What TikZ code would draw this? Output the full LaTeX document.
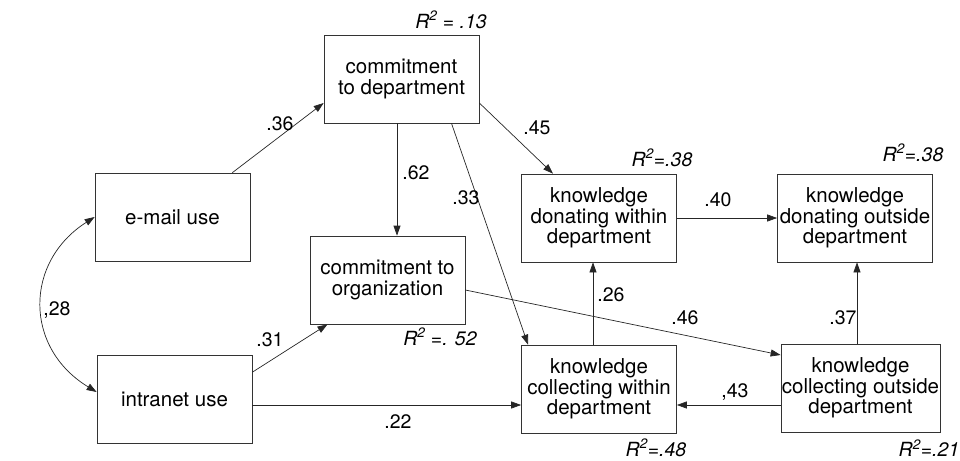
\documentclass[tikz,border=0pt]{standalone}
\usepackage{fontspec}
\setmainfont{TeX Gyre Heros}
\usetikzlibrary{arrows.meta}

\begin{document}
\begin{tikzpicture}[x=1pt,y=-1pt,
  box/.style={draw=black!80,line width=0.7pt,minimum width=155pt,minimum height=88pt,
    align=center,inner sep=0pt,font=\fontsize{20.5}{20.5}\selectfont},
  coef/.style={inner sep=1pt,font=\fontsize{19.5}{20}\selectfont},
  rsq/.style={inner sep=1pt,font=\fontsize{19.5}{20}\selectfont\itshape},
  link/.style={draw=black!85,line width=0.7pt,-{Triangle[length=10pt,width=7pt]}}]
   \useasboundingbox (0,0) rectangle (960,460);
   \node[box] (dept)  at (401.5,79)  {commitment\\to department};
   \node[box] (email) at (172.5,217) {e-mail use};
   \node[box] (org)   at (387.5,280) {commitment to\\organization};
   \node[box] (intra) at (174.5,399) {intranet use};
   \node[box] (donw)  at (599,218)   {knowledge\\donating within\\department};
   \node[box] (dono)  at (855,218)   {knowledge\\donating outside\\department};
   \node[box] (colw)  at (599,389)   {knowledge\\collecting within\\department};
   \node[box,minimum width=159pt] (colo) at (860.5,388) {knowledge\\collecting outside\\department};
   \coordinate (hl) at (0,405);
   \coordinate (vd) at (397,0);
   \draw[link] ([xshift=-18pt]email.north east) -- ([yshift=-24pt]dept.west);
   \draw[link] (dept.south -| vd) -- (org.north -| vd);
   \draw[link] ([yshift=-24pt]dept.east) -- ([xshift=-46pt]donw.north);
   \draw[link] ([xshift=50pt]dept.south) -- ([xshift=-71pt]colw.north);
   \draw[link] (intra.19) -- ([xshift=-60pt]org.south);
   \draw[link] (intra.east |- hl) -- (colw.west |- hl);
   \draw[link] ([yshift=-10pt]org.east) -- ([yshift=33pt]colo.west);
   \draw[link] (colo.west |- hl) -- (colw.east |- hl);
   \draw[link] ([xshift=-6pt]colw.north) -- ([xshift=-6pt]donw.south);
   \draw[link] (donw.east) -- (dono.west);
   \draw[link] ([xshift=-3.5pt]colo.north) -- ([xshift=-3.5pt]colo.north |- dono.south);
   \draw[link,{Triangle[length=10pt,width=7pt]}-{Triangle[length=10pt,width=7pt]}]
      (email.west) .. controls (24,262) and (24,348) .. ([yshift=7pt]intra.west);
   \node[coef] (c36) at (280,124) {.36};
   \node[coef] (c62) at (416,173) {.62};
   \node[coef] (c45) at (537,128) {.45};
   \node[coef] (c33) at (466,198) {.33};
   \node[coef] (c40) at (718,200) {.40};
   \node[coef] (c26) at (611,295) {.26};
   \node[coef] (c37) at (843,318) {.37};
   \node[coef] (c46) at (685,318) {.46};
   \node[coef] (c28) at (57,310)  {,28};
   \node[coef] (c31) at (270,340) {.31};
   \node[coef] (c22) at (398,422) {.22};
   \node[coef] (c43) at (735,392) {,43};
   \node[rsq] (r13) at (451,20)  {R\textsuperscript{2} = .13};
   \node[rsq] (r52) at (440,337) {R\textsuperscript{2} =. 52};
   \node[rsq] (r38a) at (662,158) {R\textsuperscript{2}=.38};
   \node[rsq] (r38b) at (913,153) {R\textsuperscript{2}=.38};
   \node[rsq] (r48) at (656,448) {R\textsuperscript{2}=.48};
   \node[rsq] (r21) at (929,448) {R\textsuperscript{2}=.21};
\end{tikzpicture}
\end{document}
